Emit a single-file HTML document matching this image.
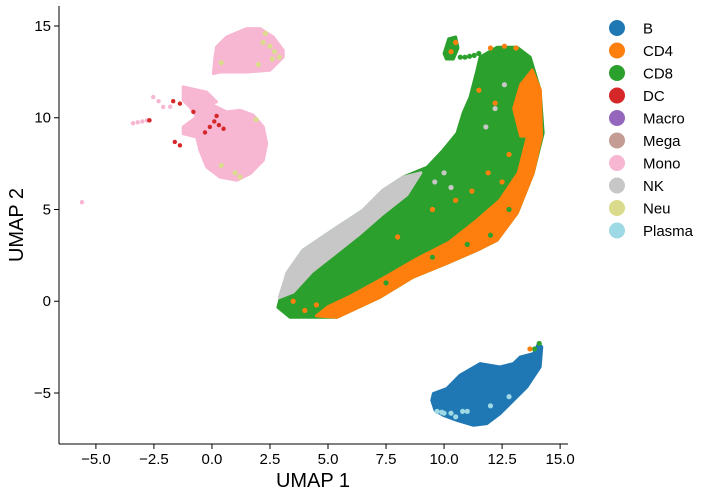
<!DOCTYPE html>
<html><head><meta charset="utf-8"><style>
html,body{margin:0;padding:0;background:#fff;width:710px;height:496px;overflow:hidden}
svg text{font-family:"Liberation Sans",sans-serif}
</style></head><body>
<svg id="chart" width="710" height="496"></svg>
<script>
const xTicks=[-5,-2.5,0,2.5,5,7.5,10,12.5,15];
const xTickLabels=["−5.0","−2.5","0.0","2.5","5.0","7.5","10.0","12.5","15.0"];
const yTicks=[-5,0,5,10,15];
const yTickLabels=["−5","0","5","10","15"];
const categories=["B","CD4","CD8","DC","Macro","Mega","Mono","NK","Neu","Plasma"];
const colors=["#1f77b4","#ff7f0e","#2ca02c","#d62728","#9467bd","#c49c94","#f7b6d2","#c7c7c7","#dbdb8d","#9edae5"];
const cd8Main=[[2.84,-0.33],[3.36,-0.87],[5.39,-0.87],[7.24,0.22],[8.66,1.31],[10.13,2.07],[11.42,2.78],[12.28,3.32],[13.15,4.8],[13.84,6.98],[14.27,9.16],[14.14,11.5],[13.71,13.3],[13.15,13.84],[12.28,13.84],[11.55,13.3],[11.42,12.59],[11.12,11.12],[10.82,10.25],[10.56,9.16],[9.96,8.23],[9.27,7.3],[8.23,6.76],[7.37,6.05],[6.51,4.96],[5.39,4.03],[3.92,2.78],[3.23,1.53]];
const cd8Top=[[10.0,13.5],[10.2,14.3],[10.5,14.4],[10.6,13.8],[10.4,13.2],[10.1,13.2]];
const nkBand=[[2.9,0.2],[3.23,1.53],[3.92,2.78],[5.39,4.03],[6.51,4.96],[7.37,6.05],[8.23,6.76],[9.0,7.0],[8.4,5.8],[7.3,4.7],[6.3,3.6],[5.3,2.6],[4.3,1.6],[3.5,0.5]];
const cd4Band=[[4.5,-0.8],[5.39,-0.87],[7.24,0.22],[8.66,1.31],[10.13,2.07],[11.42,2.78],[12.28,3.32],[13.15,4.8],[13.84,6.98],[14.2,9.0],[13.6,9.0],[13.2,7.0],[12.4,5.5],[11.4,4.4],[10.2,3.2],[8.8,2.3],[7.3,1.2],[6,0.3],[5,-0.3]];
const cd4Right=[[13.3,9.0],[14.2,9.0],[14.15,11.5],[13.8,12.6],[13.3,11.8],[13.0,10.5]];
const monoUpper=[[0.2,13.86],[0.63,14.4],[1.5,14.86],[2.07,14.86],[2.64,14.4],[3.07,13.68],[3.07,13.31],[2.5,12.59],[1.5,12.49],[0.34,12.49],[0.06,12.4],[0.13,13.31]];
const monoLower=[[-1.24,11.68],[-0.23,11.4],[0.2,10.86],[-0.09,10.77],[0.63,10.32],[1.21,10.41],[1.78,10.14],[2.21,9.51],[2.36,8.59],[2.21,7.68],[1.65,6.96],[1.07,6.59],[0.34,6.77],[-0.23,7.32],[-0.52,8.23],[-0.66,8.95],[-1.24,9.13],[-1.24,9.5],[-0.66,10.04],[-0.95,10.59],[-1.24,10.95]];
const bBlob=[[9.54,-5.03],[10.12,-4.76],[10.69,-4.03],[11.55,-3.4],[12.41,-3.58],[12.99,-3.4],[13.28,-3.04],[13.85,-2.85],[14.07,-2.31],[14.21,-2.49],[14.14,-3.58],[13.85,-4.13],[13.57,-4.67],[12.99,-5.4],[12.41,-6.13],[11.84,-6.67],[11.27,-6.76],[10.55,-6.49],[9.97,-6.22],[9.61,-5.94],[9.47,-5.4]];
const monoPtsX=[-2.53,-2.3,-2.1,-3.4,-3.2,-3.0,-2.8,-2.67,-1.8,-5.6];
const monoPtsY=[11.13,10.9,10.59,9.7,9.75,9.8,9.85,9.86,10.6,5.4];
const dcPtsX=[-1.67,-1.38,-0.8,-0.09,0.1,0.3,0.5,-0.3,-1.6,-1.38,-2.7,0.2];
const dcPtsY=[10.9,10.77,10.32,9.5,9.8,9.6,9.4,9.2,8.68,8.5,9.86,10.1];
const neuPtsX=[2.2,2.5,2.7,2.9,2.6,0.4,1.21,1.0,0.4,1.9,2.0,2.3];
const neuPtsY=[14.1,13.9,13.6,13.3,13.2,13.0,6.77,7.0,7.4,9.9,12.9,14.6];
const plasmaPtsX=[9.7,9.9,10.0,10.3,10.5,10.8,11.0,12.0,12.8];
const plasmaPtsY=[-6.0,-6.05,-6.1,-6.1,-6.3,-6.0,-6.0,-5.7,-5.2];
const cd8PtsX=[10.7,10.9,11.1,11.3,11.5,14.1,13.9,12.0,12.8,11.0,9.5,7.5];
const cd8PtsY=[13.3,13.3,13.35,13.4,13.5,-2.3,-2.6,3.6,5.0,3.1,2.4,1.0];
const cd4PtsX=[10.3,10.5,12.0,12.6,13.1,13.5,13.9,14.1,13.8,12.2,11.5,9.5,8.0,4.0,4.5,3.5,11.9,12.8,13.7,11.2,12.5,10.5];
const cd4PtsY=[13.6,14.1,13.8,13.9,13.8,12.0,10.5,9.5,11.0,10.8,11.5,5.0,3.5,-0.5,-0.2,0.0,7.0,8.0,-2.6,6.0,6.5,5.5];
const nkPtsX=[9.6,10.0,10.3,11.8,12.2,12.6];
const nkPtsY=[6.5,7.0,6.2,9.5,10.5,11.8];

const W=710,H=496,L=59,R=568,T=6,B=444;
const xMin=-6.59,xMax=15.34,yMin=-7.78,yMax=16.09;
const sx=v=>L+(v-xMin)/(xMax-xMin)*(R-L);
const sy=v=>B-(v-yMin)/(yMax-yMin)*(B-T);
const svg=document.getElementById('chart');
const NS='http://www.w3.org/2000/svg';
function mk(tag,attrs){const e=document.createElementNS(NS,tag);for(const k in attrs)e.setAttribute(k,attrs[k]);svg.appendChild(e);return e;}
function poly(pts,color,name){
  const e=mk('polygon',{points:pts.map(p=>sx(p[0])+','+sy(p[1])).join(' '),fill:color,stroke:color,'stroke-width':3,'stroke-linejoin':'round'});
  
  
}
function pts(xs,ys,color,name,r){
  for(let i=0;i<xs.length;i++){
    const c=mk('circle',{cx:sx(xs[i]),cy:sy(ys[i]),r:r||2.2,fill:color});
    
    
  }
}
poly(cd8Main,colors[2],'cd8-cluster');
poly(cd8Top,colors[2],'cd8-top-cluster');
poly(nkBand,colors[7],'nk-cluster');
poly(cd4Band,colors[1],'cd4-cluster');
poly(cd4Right,colors[1],'cd4-right-cluster');
poly(monoUpper,colors[6],'mono-upper-cluster');
poly(monoLower,colors[6],'mono-lower-cluster');
poly(bBlob,colors[0],'b-cluster');
pts(monoPtsX,monoPtsY,colors[6],'mono-point');
pts(dcPtsX,dcPtsY,colors[3],'dc-point');
pts(neuPtsX,neuPtsY,colors[8],'neu-point',2.6);
pts(plasmaPtsX,plasmaPtsY,colors[9],'plasma-point',2.6);
pts(cd8PtsX,cd8PtsY,colors[2],'cd8-point',2.6);
pts(cd4PtsX,cd4PtsY,colors[1],'cd4-point',2.6);
pts(nkPtsX,nkPtsY,colors[7],'nk-point',2.6);

let e=mk('line',{x1:L,y1:T,x2:L,y2:B,stroke:'#000','stroke-width':1});


e=mk('line',{x1:L,y1:B,x2:R,y2:B,stroke:'#000','stroke-width':1});


xTicks.forEach((v,i)=>{
  const t=mk('line',{x1:sx(v),y1:B,x2:sx(v),y2:B+5,stroke:'#000'});
  
  
  const tx=mk('text',{x:sx(v),y:B+20,'font-size':15,'text-anchor':'middle'});
  tx.textContent=xTickLabels[i];
  
  
});
yTicks.forEach((v,i)=>{
  const t=mk('line',{x1:L-5,y1:sy(v),x2:L,y2:sy(v),stroke:'#000'});
  
  
  const tx=mk('text',{x:L-8,y:sy(v)+5,'font-size':15,'text-anchor':'end'});
  tx.textContent=yTickLabels[i];
  
  
});
e=mk('text',{x:313,y:487,'font-size':20,'text-anchor':'middle'});
e.textContent='UMAP 1';


e=mk('text',{x:23,y:225,'font-size':20,'text-anchor':'middle',transform:'rotate(-90 23 225)'});
e.textContent='UMAP 2';


categories.forEach((c,i)=>{
  const y=28+i*22.5;
  const m=mk('circle',{cx:617,cy:y,r:8,fill:colors[i]});
  
  
  const t=mk('text',{x:643,y:y+5.5,'font-size':15});
  t.textContent=c;
  
  
});
</script>
</body></html>
